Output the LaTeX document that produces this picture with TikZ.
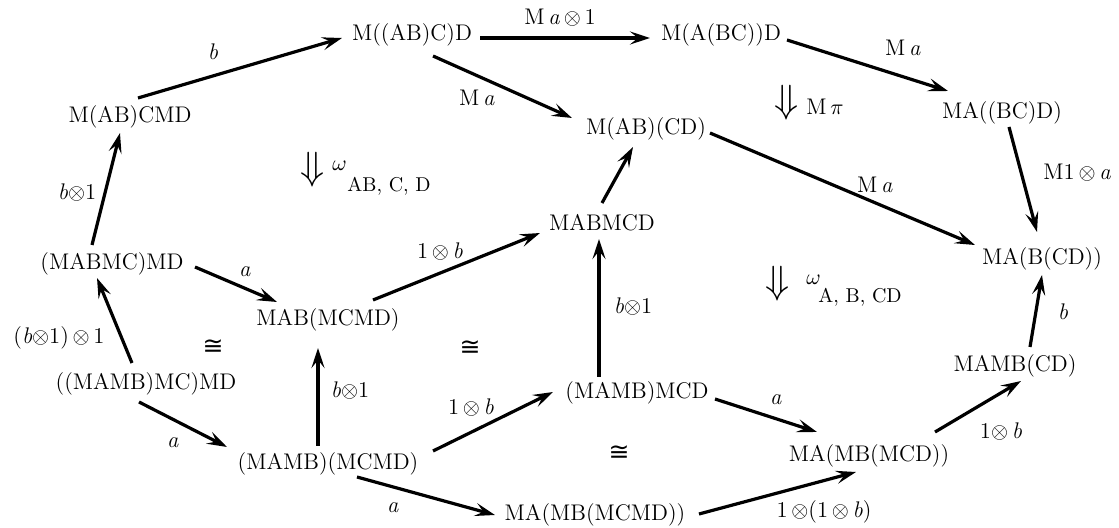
\documentclass[tikz,border=0pt]{standalone}
\usepackage{fontspec}
\usepackage{graphicx}
\usetikzlibrary{arrows.meta}
\newfontfamily\symfont{DejaVu Sans}
\newcommand\ita{\textit{a}}
\newcommand\itb{\textit{b}}
\newcommand\tens{$\otimes$}
\newcommand\isom{{\symfont\fontsize{12.5}{14}\selectfont ≅}}
\newcommand\twocell{\scalebox{1.8}{$\Downarrow$}}
\begin{document}
\begin{tikzpicture}[x=0.5pt,y=-0.5pt,
  obj/.style={anchor=base, inner sep=0pt, font=\fontsize{11.3}{13}\selectfont},
  lbl/.style={inner sep=0pt, font=\fontsize{11.3}{13}\selectfont},
  sub/.style={inner sep=0pt, anchor=west, font=\fontsize{10}{12}\selectfont},
  ar/.style={line width=1.6pt, -{Stealth[length=10pt,width=6.5pt,inset=4pt]}},
  ]
\useasboundingbox (0,0) rectangle (1119,528);

% objects
\node[obj] (n1)  at (412,41)  {M((AB)C)D};
\node[obj] (n2)  at (721,41)  {M(A(BC))D};
\node[obj] (n3)  at (1002,119) {MA((BC)D)};
\node[obj] (n4)  at (130,123) {M(AB)CMD};
\node[obj] (n5)  at (646,135) {M(AB)(CD)};
\node[obj] (n6)  at (602,231) {MABMCD};
\node[obj] (n7)  at (1042,265) {MA(B(CD))};
\node[obj] (n8)  at (112,270) {(MABMC)MD};
\node[obj] (n9)  at (328,326) {MAB(MCMD)};
\node[obj] (n10) at (146,390) {((MAMB)MC)MD};
\node[obj] (n11) at (1015,372) {MAMB(CD)};
\node[obj] (n12) at (637,399) {(MAMB)MCD};
\node[obj] (n13) at (328,470) {(MAMB)(MCMD)};
\node[obj] (n14) at (869,462) {MA(MB(MCD))};
\node[obj] (n15) at (595,521) {MA(MB(MCMD))};

% 1-cells
\draw[ar] ([shift={(8,-25)}]n4.base)   -- ([shift={(-70,-3)}]n1.base);
\draw[ar] ([shift={(68,-3)}]n1.base)   -- ([shift={(-71,-3)}]n2.base);
\draw[ar] ([shift={(66,-1)}]n2.base)   -- ([shift={(-54,-28)}]n3.base);
\draw[ar] ([shift={(21,15)}]n1.base)   -- ([shift={(-74,-17)}]n5.base);
\draw[ar] ([shift={(7,8)}]n3.base)     -- ([shift={(-5,-33)}]n7.base);
\draw[ar] ([shift={(64,-2)}]n5.base)   -- ([shift={(-67,-20)}]n7.base);
\draw[ar] ([shift={(0,-28)}]n6.base)   -- ([shift={(-13,12)}]n5.base);
\draw[ar] ([shift={(-20,-25)}]n8.base) -- ([shift={(-10,10)}]n4.base);
\draw[ar] ([shift={(83,-3)}]n8.base)   -- ([shift={(-51,-24)}]n9.base);
\draw[ar] ([shift={(45,-26)}]n9.base)  -- ([shift={(-62,2)}]n6.base);
\draw[ar] ([shift={(-14,-27)}]n10.base) -- ([shift={(-15,8)}]n8.base);
\draw[ar] ([shift={(-10,-24)}]n13.base) -- ([shift={(-10,22)}]n9.base);
\draw[ar] ([shift={(-38,-22)}]n12.base) -- ([shift={(-3,8)}]n6.base);
\draw[ar] ([shift={(-7,12)}]n10.base)  -- ([shift={(-101,-23)}]n13.base);
\draw[ar] ([shift={(105,-19)}]n13.base) -- ([shift={(-84,-7)}]n12.base);
\draw[ar] ([shift={(29,7)}]n13.base)   -- ([shift={(-100,-6)}]n15.base);
\draw[ar] ([shift={(78,0)}]n12.base)   -- ([shift={(-52,-30)}]n14.base);
\draw[ar] ([shift={(104,-7)}]n15.base) -- ([shift={(-13,10)}]n14.base);
\draw[ar] ([shift={(66,-30)}]n14.base) -- ([shift={(6,9)}]n11.base);
\draw[ar] ([shift={(15,-25)}]n11.base) -- ([shift={(0,10)}]n7.base);

% labels of 1-cells
\node[lbl] (l1)  at (213,52)  {\itb};
\node[lbl] (l2)  at (560,18)  {M\,\ita\,\tens\,1};
\node[lbl] (l3)  at (903,48)  {M\,\ita};
\node[lbl] (l4)  at (477,98)  {M\,\ita};
\node[lbl,anchor=west] (l5) at (1043,173) {M1\,\tens\,\ita};
\node[lbl] (l6)  at (875,185) {M\,\ita};
\node[lbl] (l7)  at (77,193)  {\itb\tens1};
\node[lbl] (l8)  at (245,272) {\ita};
\node[lbl] (l9)  at (59,338)  {(\itb\tens1)\,\tens\,1};
\node[lbl] (l11) at (350,391) {\itb\tens1};
\node[lbl] (l12) at (440,252) {1\,\tens\,\itb};
\node[lbl] (l14) at (633,307) {\itb\tens1};
\node[lbl] (l15) at (1063,312) {\itb};
\node[lbl] (l16) at (173,443) {\ita};
\node[lbl] (l17) at (471,408) {1\,\tens\,\itb};
\node[lbl] (l18) at (393,508) {\ita};
\node[lbl] (l19) at (776,400) {\ita};
\node[lbl] (l21) at (1001,432) {1\tens\,\itb};
\node[lbl] (l22) at (824,512) {1\,\tens(1\,\tens\,\itb)};

% isomorphic faces
\node[lbl] (c1) at (213,347) {\isom};
\node[lbl] (c2) at (470,348) {\isom};
\node[lbl] (c3) at (619,453) {\isom};

% 2-cells
\node[lbl] (t1) at (313,170) {\twocell};
\node[lbl,anchor=west] (w1) at (332,166) {$\omega$};
\node[sub] (s1) at (347,186) {AB, C, D};
\node[lbl] (t2) at (787,103) {\twocell};
\node[lbl,anchor=west] (w2) at (806,107) {M\,$\pi$};
\node[lbl] (t3) at (778,284) {\twocell};
\node[lbl,anchor=west] (w3) at (806,280) {$\omega$};
\node[sub] (s3) at (818,297) {A, B, CD};
\end{tikzpicture}
\end{document}
